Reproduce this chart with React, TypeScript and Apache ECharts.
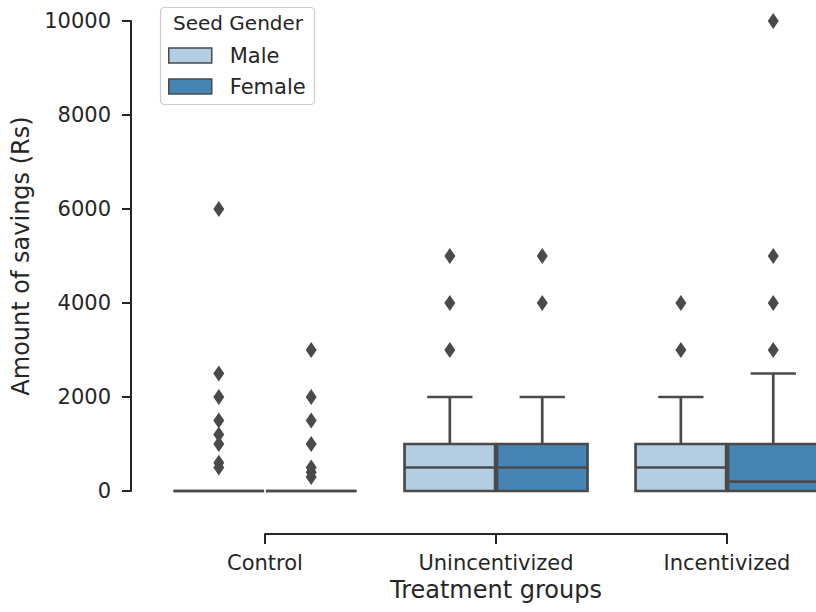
import React, { useEffect, useRef } from "react";
import * as echarts from "echarts";

const categories = ["Control", "Unincentivized", "Incentivized"];
const hues = ["Male", "Female"];
const hueColors = ["#b3cde2", "#4684b4"];
const edgeColor = "#4a4a4a";
const textColor = "#262626";
const yMin = 0;
const yMax = 10000;
const yInterval = 2000;
// visible x range of the (right-cropped) plot, in category units
const xViewMin = -0.5;
const xViewMax = 2.385;
// [whiskerLow, Q1, median, Q3, whiskerHigh] for each category
const maleBoxes = [
  [0, 0, 0, 0, 0],
  [0, 0, 500, 1000, 2000],
  [0, 0, 500, 1000, 2000],
];
const femaleBoxes = [
  [0, 0, 0, 0, 0],
  [0, 0, 500, 1000, 2000],
  [0, 0, 200, 1000, 2500],
];
const maleOutliers = [
  [6000, 2500, 2000, 1500, 1200, 1000, 600, 500],
  [5000, 4000, 3000],
  [4000, 3000],
];
const femaleOutliers = [
  [3000, 2000, 1500, 1000, 500, 400, 300],
  [5000, 4000],
  [10000, 5000, 4000, 3000],
];

const FONT = "DejaVu Sans";
const HUE_WIDTH = 0.4;

function hueOffset(h: number) {
  return (h - (hues.length - 1) / 2) * HUE_WIDTH;
}

function makeRender(hueIdx: number) {
  return (params: any, api: any) => {
    const cat = api.value(0);
    const lo = api.value(1);
    const q1 = api.value(2);
    const med = api.value(3);
    const q3 = api.value(4);
    const hi = api.value(5);
    const cx = cat + hueOffset(hueIdx);
    const halfW = (HUE_WIDTH * 0.98) / 2;
    const capHalf = halfW / 2;
    const tl = api.coord([cx - halfW, q3]);
    const br = api.coord([cx + halfW, q1]);
    const mL = api.coord([cx - halfW, med]);
    const mR = api.coord([cx + halfW, med]);
    const c = api.coord([cx, 0]);
    const pHi = api.coord([cx, hi]);
    const pLo = api.coord([cx, lo]);
    const capL = api.coord([cx - capHalf, hi])[0];
    const capR = api.coord([cx + capHalf, hi])[0];
    const lineStyle = { stroke: edgeColor, lineWidth: 2.7, fill: null };
    const children: any[] = [];
    if (hi > q3) {
      children.push({ type: "line", shape: { x1: c[0], y1: tl[1], x2: c[0], y2: pHi[1] }, style: lineStyle });
      children.push({ type: "line", shape: { x1: capL, y1: pHi[1], x2: capR, y2: pHi[1] }, style: lineStyle });
    }
    if (lo < q1) {
      children.push({ type: "line", shape: { x1: c[0], y1: br[1], x2: c[0], y2: pLo[1] }, style: lineStyle });
      children.push({ type: "line", shape: { x1: capL, y1: pLo[1], x2: capR, y2: pLo[1] }, style: lineStyle });
    }
    children.push({
      type: "rect",
      shape: { x: tl[0], y: tl[1], width: br[0] - tl[0], height: br[1] - tl[1] },
      style: { fill: hueColors[hueIdx], stroke: edgeColor, lineWidth: 2.7 },
    });
    children.push({ type: "line", shape: { x1: mL[0], y1: mL[1], x2: mR[0], y2: mR[1] }, style: lineStyle });
    return { type: "group", children };
  };
}

export default function App() {
  const ref = useRef<HTMLDivElement>(null);
  useEffect(() => {
    if (!ref.current) return;
    const chart = echarts.init(ref.current, undefined, { renderer: "svg" });
    const boxSets = [maleBoxes, femaleBoxes];
    const outSets = [maleOutliers, femaleOutliers];
    const boxSeries = hues.map((name, h) => ({
      type: "custom",
      name,
      xAxisIndex: 0,
      yAxisIndex: 0,
      renderItem: makeRender(h),
      itemStyle: { color: hueColors[h] },
      encode: { x: 0, y: [1, 2, 3, 4, 5] },
      data: boxSets[h].map((b, i) => [i, ...b]),
      clip: false,
      z: 2,
    }));
    const outSeries = hues.map((name, h) => ({
      type: "scatter",
      name: name + " outliers",
      xAxisIndex: 0,
      yAxisIndex: 0,
      symbol: "diamond",
      symbolSize: [11, 16],
      itemStyle: { color: edgeColor, opacity: 1 },
      clip: false,
      z: 3,
      data: outSets[h].flatMap((vals, i) => vals.map((v) => [i + hueOffset(h), v])),
    }));
    chart.setOption({
      animation: false,
      backgroundColor: "#ffffff",
      textStyle: { fontFamily: FONT, color: textColor },
      grid: [
        { left: 149.5, top: 21, right: 0, height: 470 },
        { left: 265, top: 21, width: 462, height: 470 },
      ],
      xAxis: [
        { gridIndex: 0, type: "value", min: xViewMin, max: xViewMax, show: false },
        {
          gridIndex: 1,
          type: "value",
          min: 0,
          max: categories.length - 1,
          interval: 1,
          offset: 43,
          position: "bottom",
          axisLine: { show: true, onZero: false, lineStyle: { color: textColor, width: 2 } },
          axisTick: { show: true, inside: false, length: 10, lineStyle: { color: textColor, width: 2 } },
          splitLine: { show: false },
          axisLabel: {
            margin: 18,
            fontSize: 21,
            color: textColor,
            fontFamily: FONT,
            formatter: (v: number) => categories[Math.round(v)] ?? "",
          },
          name: "Treatment groups",
          nameLocation: "middle",
          nameGap: 44,
          nameTextStyle: { fontSize: 24, color: textColor, fontFamily: FONT },
        },
      ],
      yAxis: [
        {
          gridIndex: 0,
          type: "value",
          min: yMin,
          max: yMax,
          interval: yInterval,
          offset: 18.5,
          axisLine: { show: true, onZero: false, lineStyle: { color: textColor, width: 2 } },
          axisTick: { show: true, inside: false, length: 9, lineStyle: { color: textColor, width: 2 } },
          splitLine: { show: false },
          axisLabel: {
            margin: 20,
            fontSize: 21,
            color: textColor,
            fontFamily: FONT,
            formatter: (v: number) => String(v),
          },
          name: "Amount of savings (Rs)",
          nameLocation: "middle",
          nameGap: 87,
          nameTextStyle: { fontSize: 24, color: textColor, fontFamily: FONT },
        },
        { gridIndex: 1, type: "value", min: yMin, max: yMax, show: false },
      ],
      legend: {
        orient: "vertical",
        left: 163,
        top: 40,
        itemWidth: 43,
        itemHeight: 15,
        itemGap: 10,
        textStyle: { fontSize: 21, color: textColor, fontFamily: FONT, padding: [0, 0, 0, 13] },
        data: hues.map((name, h) => ({
          name,
          icon: "rect",
          itemStyle: { color: hueColors[h], borderColor: edgeColor, borderWidth: 1.5 },
        })),
      },
      graphic: [
        {
          type: "rect",
          z: 1,
          shape: { x: 160.5, y: 7.5, width: 154, height: 97, r: 4 },
          style: { fill: "rgba(255,255,255,0.8)", stroke: "#cccccc", lineWidth: 1.2 },
        },
        {
          type: "text",
          z: 1,
          x: 238,
          y: 23,
          style: {
            text: "Seed Gender",
            fontSize: 20,
            fontFamily: FONT,
            fill: textColor,
            align: "center",
            verticalAlign: "middle",
          },
        },
      ],
      series: [...boxSeries, ...outSeries],
    });
    return () => chart.dispose();
  }, []);
  return (
    <div
      ref={ref}
      style={{ position: "fixed", left: 0, top: 0, width: 816, height: 612 }}
    />
  );
}
